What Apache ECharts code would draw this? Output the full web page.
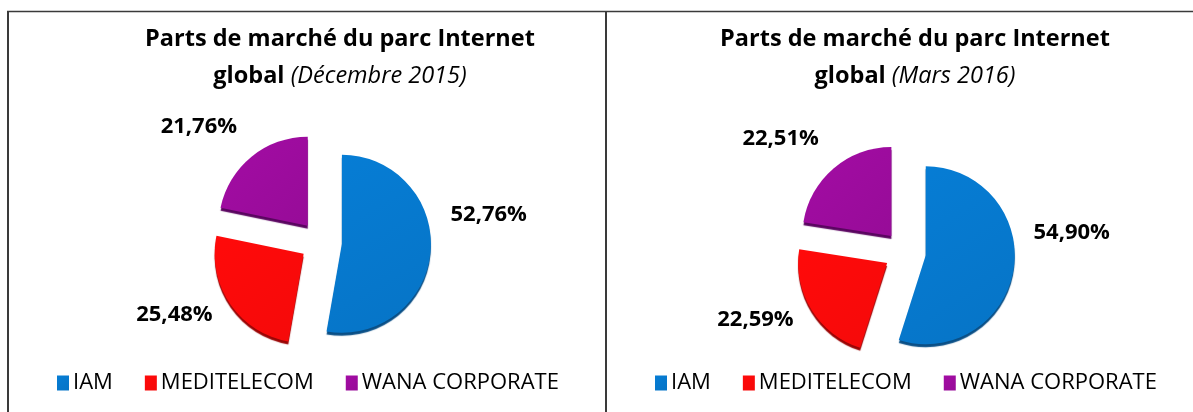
<!DOCTYPE html>
<html>
<head>
<meta charset="utf-8">
<script src="https://cdn.jsdelivr.net/npm/echarts@6/dist/echarts.min.js"></script>
<style>
  html, body { margin: 0; padding: 0; background: #fff; }
  #chart { width: 1193px; height: 412px; }
</style>
</head>
<body>
<div id="chart"></div>
<script>
const operators = ['IAM', 'MEDITELECOM', 'WANA CORPORATE'];
const dec2015 = [52.76, 25.48, 21.76];
const mar2016 = [54.90, 22.59, 22.51];
const periods = ['Décembre 2015', 'Mars 2016'];

const colors = ['#0674C6', '#F50A0A', '#970C98'];
const rims = ['#0A4F86', '#9A0505', '#5A0560'];
// vertical nudge of the value labels (Excel "best fit" placement)
const labelDy = [-38, 2, -18];

const fmt = v => v.toFixed(2).replace('.', ',') + '%';

function slices(values) {
  return values.map((v, i) => ({
    name: operators[i],
    value: v,
    selected: true,
    itemStyle: {
      color: new echarts.graphic.LinearGradient(0, 0, 1, 1, [
        { offset: 0, color: echarts.color.lift(colors[i], -0.08) },
        { offset: 1, color: colors[i] }
      ]),
      shadowColor: rims[i],
      shadowOffsetY: 3,
      shadowOffsetX: 0,
      shadowBlur: 1
    }
  }));
}

function pie(values, center) {
  return {
    type: 'pie',
    center: center,
    radius: 89,
    startAngle: 90,
    clockwise: true,
    selectedMode: 'multiple',
    selectedOffset: 21,
    silent: true,
    animation: false,
    label: {
      show: true,
      position: 'outside',
      formatter: p => fmt(p.value),
      fontFamily: 'Open Sans',
      fontWeight: 'bold',
      fontSize: 22,
      color: '#000'
    },
    labelLine: { show: false, length: 15, length2: 0 },
    labelLayout: p => ({ dy: labelDy[p.dataIndex] }),
    data: slices(values)
  };
}

function title(period, x) {
  return {
    text: '{b|Parts de marché du parc Internet}\n{b|global }{i|(' + period + ')}',
    left: x,
    top: 16,
    textAlign: 'center',
    textStyle: {
      rich: {
        b: { fontFamily: 'Open Sans', fontWeight: 'bold', fontSize: 23.5, lineHeight: 37, color: '#000' },
        i: { fontFamily: 'Open Sans', fontWeight: 'normal', fontStyle: 'italic', fontSize: 23.5, lineHeight: 37, color: '#000' }
      }
    }
  };
}

function legend(x) {
  return {
    data: operators,
    left: x,
    top: 367,
    itemWidth: 12,
    itemHeight: 15,
    itemGap: 32,
    icon: 'rect',
    selectedMode: false,
    textStyle: { fontFamily: 'Open Sans', fontSize: 22, color: '#000', padding: [0, 0, 0, -1] }
  };
}

const chart = echarts.init(document.getElementById('chart'));
chart.setOption({
  animation: false,
  color: colors,
  title: [title(periods[0], 335), title(periods[1], 910)],
  legend: [legend(52), legend(650)],
  series: [pie(dec2015, [321, 242]), pie(mar2016, [905, 252])],
  graphic: [
    { type: 'line', shape: { x1: 7, y1: 11.5, x2: 1193, y2: 11.5 }, style: { stroke: '#3a3a3a', lineWidth: 1.5 } },
    { type: 'line', shape: { x1: 8, y1: 11, x2: 8, y2: 412 }, style: { stroke: '#3a3a3a', lineWidth: 2 } },
    { type: 'line', shape: { x1: 606, y1: 11, x2: 606, y2: 412 }, style: { stroke: '#3a3a3a', lineWidth: 2 } }
  ]
});
</script>
</body>
</html>
